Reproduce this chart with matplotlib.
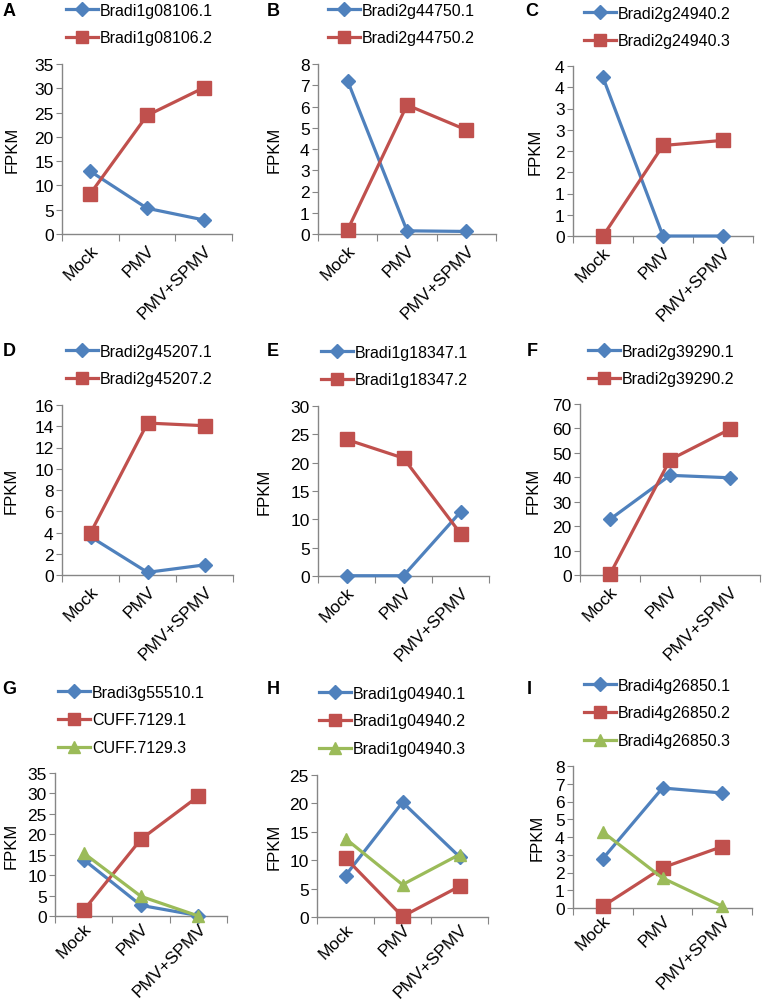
import numpy as np
import matplotlib
matplotlib.use("Agg")
import matplotlib.pyplot as plt
from matplotlib.ticker import FuncFormatter, MultipleLocator

plt.rcParams['font.family'] = ['Liberation Sans', 'DejaVu Sans']

conditions = ['Mock', 'PMV', 'PMV+SPMV']

# FPKM values
a_names = ['Bradi1g08106.1', 'Bradi1g08106.2']
a_vals = [[12.9, 5.3, 2.9], [8.3, 24.4, 30.1]]

b_names = ['Bradi2g44750.1', 'Bradi2g44750.2']
b_vals = [[7.2, 0.15, 0.12], [0.2, 6.07, 4.9]]

c_names = ['Bradi2g24940.2', 'Bradi2g24940.3']
c_vals = [[3.73, 0.0, 0.0], [0.0, 2.13, 2.25]]

d_names = ['Bradi2g45207.1', 'Bradi2g45207.2']
d_vals = [[3.6, 0.25, 0.95], [3.95, 14.3, 14.05]]

e_names = ['Bradi1g18347.1', 'Bradi1g18347.2']
e_vals = [[0.05, 0.05, 11.3], [24.1, 20.8, 7.5]]

f_names = ['Bradi2g39290.1', 'Bradi2g39290.2']
f_vals = [[22.8, 40.8, 39.8], [0.3, 47.2, 59.7]]

g_names = ['Bradi3g55510.1', 'CUFF.7129.1', 'CUFF.7129.3']
g_vals = [[13.8, 2.6, 0.1], [1.4, 18.8, 29.3], [15.4, 4.8, 0.0]]

h_names = ['Bradi1g04940.1', 'Bradi1g04940.2', 'Bradi1g04940.3']
h_vals = [[7.3, 20.2, 10.6], [10.4, 0.1, 5.4], [13.8, 5.7, 11.0]]

i_names = ['Bradi4g26850.1', 'Bradi4g26850.2', 'Bradi4g26850.3']
i_vals = [[2.78, 6.76, 6.48], [0.1, 2.27, 3.46], [4.28, 1.69, 0.1]]

y_max = [35, 8, 4, 16, 30, 70, 35, 25, 8]
y_step = [5, 1, 0.5, 2, 5, 10, 5, 5, 1]

colors = ['#4F81BD', '#C0504D', '#9BBB59']
markers = ['D', 's', '^']
msizes = [7.5, 9.5, 9]

W, H = 763, 1003
fig = plt.figure(figsize=(W / 100, H / 100), dpi=100)

# panel layout in pixels: axes (left, top, right, bottom), letter pos, legend pos, ylabel offset
panels = [
    ('A', a_names, a_vals, (62, 65, 232, 235), (9, 12), (64, 2), -42),
    ('B', b_names, b_vals, (318, 65, 496, 235), (273, 12), (326, 2), -36),
    ('C', c_names, c_vals, (573, 67, 753, 237), (532, 12), (582, 5), -30),
    ('D', d_names, d_vals, (62, 406, 233, 576), (9, 352), (64, 343), -43),
    ('E', e_names, e_vals, (318, 407, 489, 577), (273, 352), (319, 344), -46),
    ('F', f_names, f_vals, (580, 405, 760, 576), (532, 352), (586, 343), -39),
    ('G', g_names, g_vals, (55, 774, 227, 917), (9, 689), (56, 684), -36),
    ('H', h_names, h_vals, (317, 776, 488, 918), (273, 690), (317, 685), -35),
    ('I', i_names, i_vals, (573, 767, 752, 909), (529, 690), (582, 677), -28),
]

axis_color = '#868686'

for k, (letter, names, vals, box, lpos, legpos, ylo) in enumerate(panels):
    l, t, r, b = box
    ax = fig.add_axes([l / W, 1 - b / H, (r - l) / W, (b - t) / H])
    x = np.arange(len(conditions))
    handles = []
    for j, (name, v) in enumerate(zip(names, vals)):
        h, = ax.plot(x, v, color=colors[j], marker=markers[j], markersize=msizes[j],
                     linewidth=2.3, label=name, clip_on=False, zorder=3 + j)
        handles.append(h)

    ax.set_xlim(-0.5, 2.5)
    ax.set_ylim(0, y_max[k])
    ax.yaxis.set_major_locator(MultipleLocator(y_step[k]))
    if letter == 'C':
        ax.yaxis.set_major_formatter(FuncFormatter(lambda v, p: '%d' % int(np.floor(v + 0.5))))
    else:
        ax.yaxis.set_major_formatter(FuncFormatter(lambda v, p: '%d' % round(v)))

    # category boundary ticks, labels at the centres
    ax.set_xticks([-0.5, 0.5, 1.5, 2.5])
    ax.set_xticklabels([])
    ax.set_xticks(x, minor=True)
    ax.set_xticklabels(conditions, minor=True, rotation=45, ha='right',
                       rotation_mode='anchor', fontsize=12.5)
    ax.tick_params(axis='x', which='major', direction='out', length=5, color=axis_color)
    ax.tick_params(axis='x', which='minor', length=0, pad=(3 if k >= 6 else 6))
    ax.tick_params(axis='y', direction='out', length=4, color=axis_color, labelsize=12.5, pad=2)

    for s in ['top', 'right']:
        ax.spines[s].set_visible(False)
    for s in ['left', 'bottom']:
        ax.spines[s].set_color(axis_color)
        ax.spines[s].set_linewidth(1)

    ax.set_ylabel('FPKM', fontsize=12)
    ax.yaxis.set_label_coords(ylo / (r - l), 0.5)

    fig.text(lpos[0] / W, 1 - lpos[1] / H, letter, fontsize=13, fontweight='bold',
             ha='center', va='center')

    fig.legend(handles=handles, loc='upper left',
               bbox_to_anchor=(legpos[0] / W, 1 - legpos[1] / H),
               frameon=False, fontsize=11.5, handlelength=2.0, handletextpad=0.15,
               labelspacing=0.8, borderpad=0.1, borderaxespad=0, markerscale=0.9)

fig.savefig('out.png', dpi=100)
